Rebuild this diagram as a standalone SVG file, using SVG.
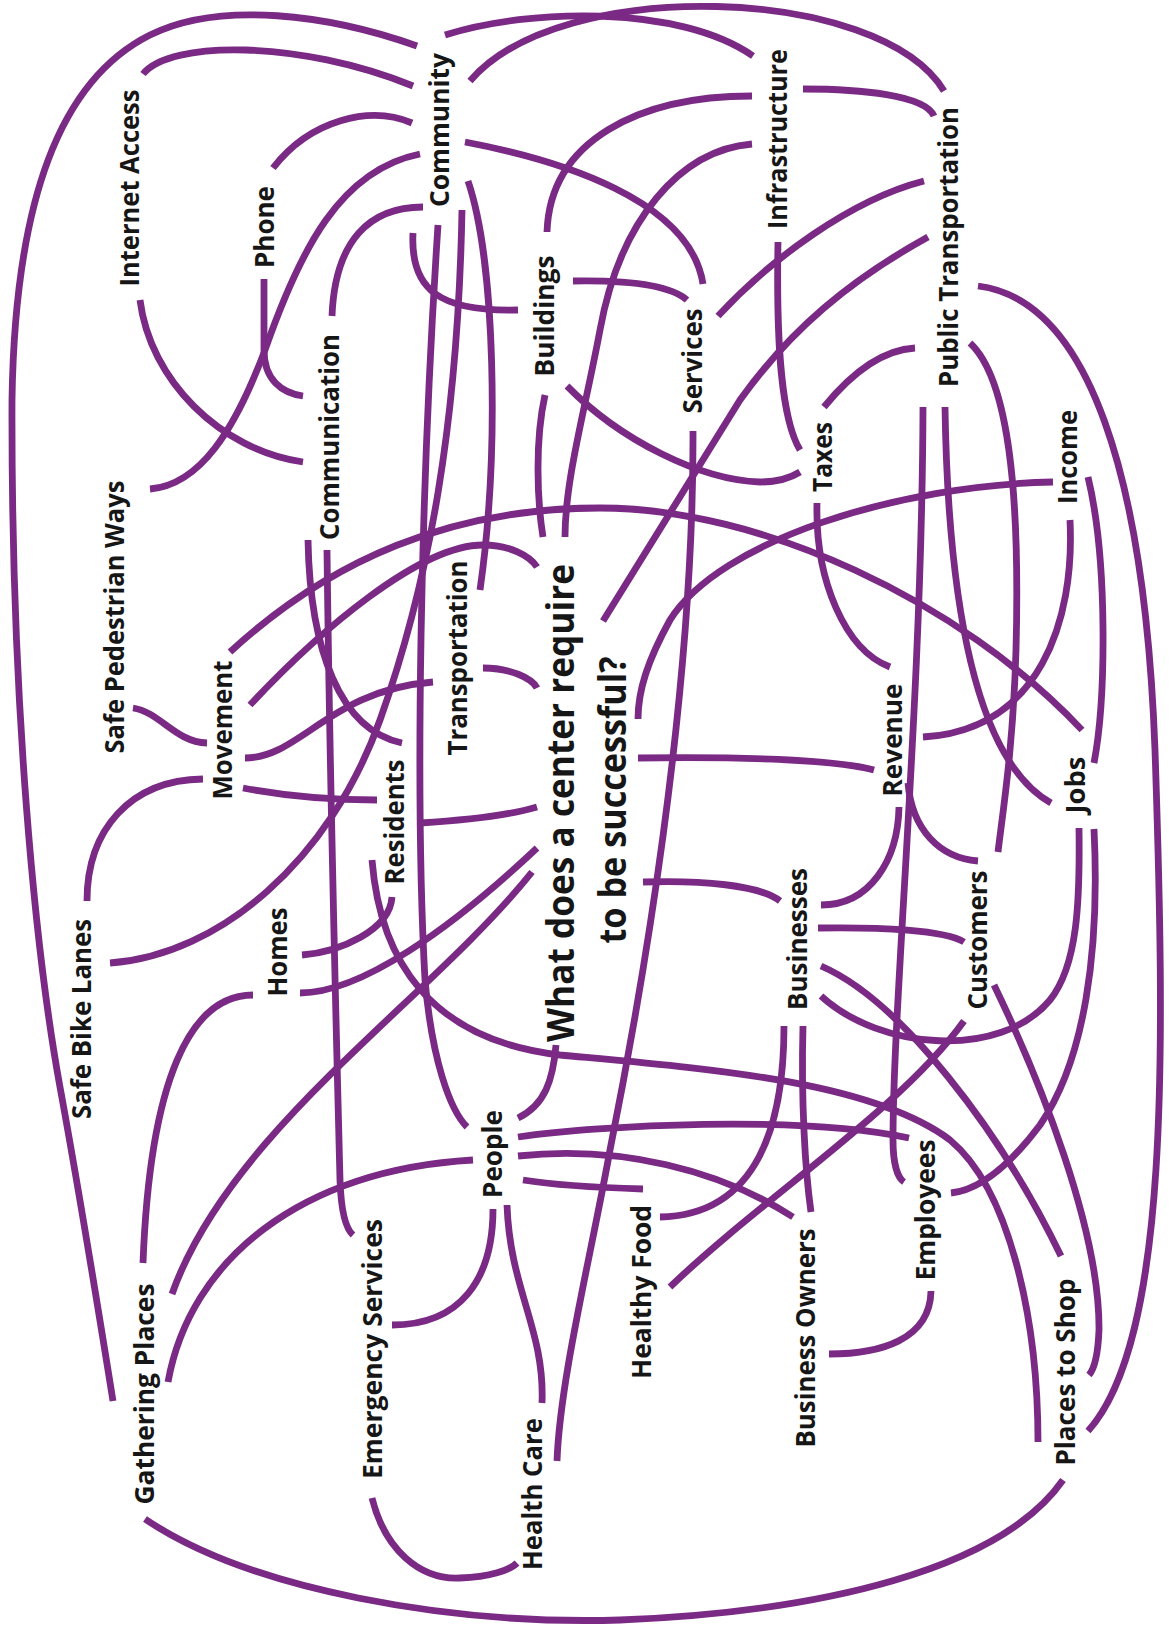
<svg xmlns="http://www.w3.org/2000/svg" width="1171" height="1634" viewBox="0 0 1171 1634">
<style>
.c{fill:none;stroke:#7a2a84;stroke-width:6.8;stroke-linecap:butt}
.t{font-family:"Open Sans","Liberation Sans",sans-serif;font-weight:700;font-size:26px;fill:#161616;text-anchor:middle}
.h{font-size:38px}
</style>
<rect width="1171" height="1634" fill="#ffffff"/>
<g id="connectors">
<path class="c" d="M 417 46 C 330 15 220 0 150 35 C 60 80 15 200 12 400 C 11 700 35 950 60 1087 C 78 1185 100 1320 113 1401"/>
<path class="c" d="M 143 74 C 170 40 300 40 413 86"/>
<path class="c" d="M 273 168 C 310 120 370 105 412 123"/>
<path class="c" d="M 420 154 C 340 170 300 250 265 350 C 235 430 200 485 150 489"/>
<path class="c" d="M 423 207 C 370 207 335 240 332 316"/>
<path class="c" d="M 140 300 C 150 380 220 450 303 462"/>
<path class="c" d="M 264 279 L 264 350 C 264 380 282 393 303 396"/>
<path class="c" d="M 445 35 C 530 8 680 5 753 56"/>
<path class="c" d="M 470 81 C 560 -25 880 -15 944 91"/>
<path class="c" d="M 803 89 C 860 89 925 95 934 116"/>
<path class="c" d="M 465 142 C 560 160 690 200 703 284"/>
<path class="c" d="M 752 96 C 640 96 550 140 547 232"/>
<path class="c" d="M 752 144 C 680 150 620 220 600 330 C 585 410 565 480 565 537"/>
<path class="c" d="M 413 233 C 410 290 440 312 518 310"/>
<path class="c" d="M 438 225 C 420 500 415 800 425 980 C 432 1060 450 1110 467 1127"/>
<path class="c" d="M 462 210 C 458 420 430 580 380 720 C 330 860 220 955 110 963"/>
<path class="c" d="M 468 181 C 495 260 500 450 480 590"/>
<path class="c" d="M 573 281 C 630 280 670 285 687 300"/>
<path class="c" d="M 545 395 C 535 440 537 500 543 537"/>
<path class="c" d="M 567 386 C 620 440 700 480 760 482 C 780 482 792 477 800 472"/>
<path class="c" d="M 718 316 C 770 260 850 200 924 181"/>
<path class="c" d="M 693 431 C 694 700 640 1000 610 1150 C 590 1260 560 1380 557 1461"/>
<path class="c" d="M 928 237 C 850 280 790 330 740 400 C 690 480 640 560 603 621"/>
<path class="c" d="M 778 242 C 776 350 782 420 800 450"/>
<path class="c" d="M 824 407 C 850 375 880 350 915 348"/>
<path class="c" d="M 978 286 C 1090 300 1145 480 1155 750 C 1165 1050 1170 1340 1088 1431"/>
<path class="c" d="M 923 407 C 922 700 893 1000 893 1140 C 893 1165 898 1178 904 1182"/>
<path class="c" d="M 945 407 C 948 600 975 760 1051 803"/>
<path class="c" d="M 970 343 C 1010 380 1020 500 1016 650 C 1013 750 1003 810 998 852"/>
<path class="c" d="M 817 503 C 815 580 845 650 890 667"/>
<path class="c" d="M 1053 482 C 900 485 720 540 670 620 C 648 660 638 690 638 719"/>
<path class="c" d="M 1070 520 C 1075 620 1040 730 923 737"/>
<path class="c" d="M 1088 477 C 1108 560 1106 700 1094 763"/>
<path class="c" d="M 230 652 C 330 560 450 508 600 508 C 760 508 960 600 1082 730"/>
<path class="c" d="M 638 758 C 720 757 830 758 874 770"/>
<path class="c" d="M 133 708 C 160 712 175 742 207 743"/>
<path class="c" d="M 203 779 C 130 780 87 830 87 901"/>
<path class="c" d="M 245 758 C 300 758 330 690 433 682"/>
<path class="c" d="M 243 788 C 280 795 330 800 377 800"/>
<path class="c" d="M 250 705 C 320 630 420 545 483 545 C 510 545 530 556 537 567"/>
<path class="c" d="M 308 540 C 310 650 340 730 402 743"/>
<path class="c" d="M 327 550 C 330 800 338 1100 340 1180 C 341 1210 345 1228 353 1235"/>
<path class="c" d="M 483 668 C 510 668 532 678 537 688"/>
<path class="c" d="M 420 823 C 470 820 510 815 537 807"/>
<path class="c" d="M 302 955 C 340 952 390 930 392 897"/>
<path class="c" d="M 300 993 C 360 993 450 930 537 848"/>
<path class="c" d="M 372 860 C 380 960 430 1040 560 1055 C 700 1068 870 1080 950 1140 C 1010 1190 1038 1320 1038 1442"/>
<path class="c" d="M 532 872 C 430 1000 230 1130 172 1294"/>
<path class="c" d="M 253 995 C 190 995 150 1080 143 1263"/>
<path class="c" d="M 168 1382 C 190 1260 300 1170 473 1160"/>
<path class="c" d="M 518 1118 C 545 1105 553 1080 556 1045"/>
<path class="c" d="M 518 1137 C 600 1125 800 1115 909 1138"/>
<path class="c" d="M 518 1156 C 620 1145 720 1170 793 1217"/>
<path class="c" d="M 523 1180 C 560 1186 610 1188 643 1189"/>
<path class="c" d="M 493 1209 C 493 1280 460 1325 392 1325"/>
<path class="c" d="M 507 1205 C 510 1290 545 1330 542 1403"/>
<path class="c" d="M 372 1498 C 385 1550 420 1580 460 1578 C 490 1577 510 1570 517 1563"/>
<path class="c" d="M 145 1519 C 250 1590 450 1625 620 1620 C 820 1612 1000 1570 1063 1480"/>
<path class="c" d="M 829 1354 C 880 1354 930 1340 931 1291"/>
<path class="c" d="M 643 882 C 700 880 760 885 780 901"/>
<path class="c" d="M 821 905 C 870 905 898 860 899 807"/>
<path class="c" d="M 818 928 C 880 927 945 930 964 942"/>
<path class="c" d="M 821 966 C 900 1000 1000 1130 1061 1256"/>
<path class="c" d="M 821 996 C 880 1050 1000 1060 1050 1000 C 1078 965 1080 900 1079 828"/>
<path class="c" d="M 803 1026 C 801 1100 805 1170 811 1212"/>
<path class="c" d="M 784 1026 C 784 1120 760 1215 660 1217"/>
<path class="c" d="M 908 783 C 912 830 940 858 978 861"/>
<path class="c" d="M 670 1287 C 760 1200 900 1110 964 1021"/>
<path class="c" d="M 994 985 C 1040 1080 1100 1230 1099 1330 C 1098 1355 1095 1368 1089 1375"/>
<path class="c" d="M 1094 829 C 1100 950 1085 1060 1040 1125 C 1010 1165 980 1190 951 1193"/>
</g>
<g id="n-community"><text class="t" dy="0.35em" textLength="154" lengthAdjust="spacingAndGlyphs" transform="translate(440,130) rotate(-90)">Community</text></g>
<g id="n-internet"><text class="t" dy="0.35em" textLength="197" lengthAdjust="spacingAndGlyphs" transform="translate(130,188) rotate(-90)">Internet Access</text></g>
<g id="n-phone"><text class="t" dy="0.35em" textLength="82" lengthAdjust="spacingAndGlyphs" transform="translate(265,227) rotate(-90)">Phone</text></g>
<g id="n-communication"><text class="t" dy="0.35em" textLength="206" lengthAdjust="spacingAndGlyphs" transform="translate(330,437) rotate(-90)">Communication</text></g>
<g id="n-buildings"><text class="t" dy="0.35em" textLength="121" lengthAdjust="spacingAndGlyphs" transform="translate(545,316) rotate(-90)">Buildings</text></g>
<g id="n-services"><text class="t" dy="0.35em" textLength="105" lengthAdjust="spacingAndGlyphs" transform="translate(693,361) rotate(-90)">Services</text></g>
<g id="n-infrastructure"><text class="t" dy="0.35em" textLength="180" lengthAdjust="spacingAndGlyphs" transform="translate(778,139) rotate(-90)">Infrastructure</text></g>
<g id="n-public-transportation"><text class="t" dy="0.35em" textLength="280" lengthAdjust="spacingAndGlyphs" transform="translate(949,247) rotate(-90)">Public Transportation</text></g>
<g id="n-taxes"><text class="t" dy="0.35em" textLength="70" lengthAdjust="spacingAndGlyphs" transform="translate(823,457) rotate(-90)">Taxes</text></g>
<g id="n-income"><text class="t" dy="0.35em" textLength="94" lengthAdjust="spacingAndGlyphs" transform="translate(1068,457) rotate(-90)">Income</text></g>
<g id="n-safe-pedestrian"><text class="t" dy="0.35em" textLength="273" lengthAdjust="spacingAndGlyphs" transform="translate(115,617) rotate(-90)">Safe Pedestrian Ways</text></g>
<g id="n-movement"><text class="t" dy="0.35em" textLength="139" lengthAdjust="spacingAndGlyphs" transform="translate(223,730) rotate(-90)">Movement</text></g>
<g id="n-transportation"><text class="t" dy="0.35em" textLength="195" lengthAdjust="spacingAndGlyphs" transform="translate(458,658) rotate(-90)">Transportation</text></g>
<g id="n-residents"><text class="t" dy="0.35em" textLength="125" lengthAdjust="spacingAndGlyphs" transform="translate(395,822) rotate(-90)">Residents</text></g>
<g id="n-homes"><text class="t" dy="0.35em" textLength="89" lengthAdjust="spacingAndGlyphs" transform="translate(278,952) rotate(-90)">Homes</text></g>
<g id="n-safe-bike"><text class="t" dy="0.35em" textLength="200" lengthAdjust="spacingAndGlyphs" transform="translate(82,1019) rotate(-90)">Safe Bike Lanes</text></g>
<g id="n-question"><text class="t h" dy="0.36em" textLength="478" lengthAdjust="spacingAndGlyphs" transform="translate(560,803) rotate(-90)">What does a center require</text><text class="t h" dy="0.36em" textLength="287" lengthAdjust="spacingAndGlyphs" transform="translate(612,800) rotate(-90)">to be successful?</text></g>
<g id="n-revenue"><text class="t" dy="0.35em" textLength="113" lengthAdjust="spacingAndGlyphs" transform="translate(893,740) rotate(-90)">Revenue</text></g>
<g id="n-jobs"><text class="t" dy="0.35em" textLength="57" lengthAdjust="spacingAndGlyphs" transform="translate(1076,785) rotate(-90)">Jobs</text></g>
<g id="n-businesses"><text class="t" dy="0.35em" textLength="142" lengthAdjust="spacingAndGlyphs" transform="translate(798,939) rotate(-90)">Businesses</text></g>
<g id="n-customers"><text class="t" dy="0.35em" textLength="139" lengthAdjust="spacingAndGlyphs" transform="translate(978,940) rotate(-90)">Customers</text></g>
<g id="n-gathering"><text class="t" dy="0.35em" textLength="221" lengthAdjust="spacingAndGlyphs" transform="translate(145,1394) rotate(-90)">Gathering Places</text></g>
<g id="n-emergency"><text class="t" dy="0.35em" textLength="260" lengthAdjust="spacingAndGlyphs" transform="translate(373,1349) rotate(-90)">Emergency Services</text></g>
<g id="n-people"><text class="t" dy="0.35em" textLength="88" lengthAdjust="spacingAndGlyphs" transform="translate(493,1154) rotate(-90)">People</text></g>
<g id="n-health-care"><text class="t" dy="0.35em" textLength="152" lengthAdjust="spacingAndGlyphs" transform="translate(533,1494) rotate(-90)">Health Care</text></g>
<g id="n-healthy-food"><text class="t" dy="0.35em" textLength="174" lengthAdjust="spacingAndGlyphs" transform="translate(642,1292) rotate(-90)">Healthy Food</text></g>
<g id="n-business-owners"><text class="t" dy="0.35em" textLength="219" lengthAdjust="spacingAndGlyphs" transform="translate(806,1338) rotate(-90)">Business Owners</text></g>
<g id="n-employees"><text class="t" dy="0.35em" textLength="141" lengthAdjust="spacingAndGlyphs" transform="translate(926,1210) rotate(-90)">Employees</text></g>
<g id="n-places-to-shop"><text class="t" dy="0.35em" textLength="187" lengthAdjust="spacingAndGlyphs" transform="translate(1066,1372) rotate(-90)">Places to Shop</text></g>
</svg>
